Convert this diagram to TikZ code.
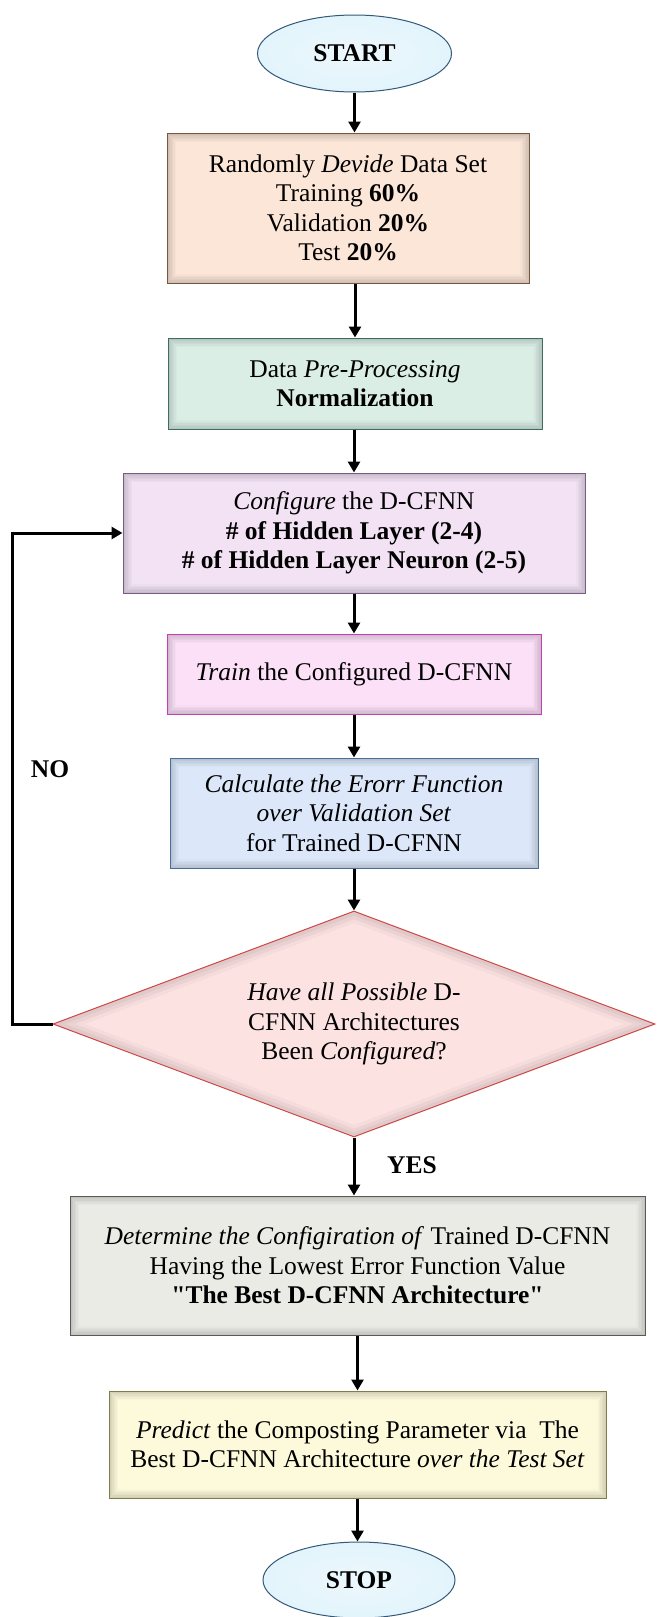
\documentclass[tikz,border=0pt]{standalone}
\usepackage{fontspec}
\newfontfamily\tnr{Liberation Serif}
\usetikzlibrary{shapes.geometric,arrows.meta}
\definecolor{peachF}{RGB}{252,230,216}
\definecolor{peachD}{RGB}{120,85,60}
\definecolor{greenF}{RGB}{218,238,230}
\definecolor{greenD}{RGB}{60,110,95}
\definecolor{purpF}{RGB}{242,226,244}
\definecolor{purpD}{RGB}{120,90,130}
\definecolor{pinkF}{RGB}{252,224,248}
\definecolor{pinkD}{RGB}{200,60,180}
\definecolor{blueF}{RGB}{220,232,250}
\definecolor{blueD}{RGB}{70,110,160}
\definecolor{redF}{RGB}{253,226,226}
\definecolor{redD}{RGB}{205,75,75}
\definecolor{grayF}{RGB}{235,235,230}
\definecolor{grayD}{RGB}{90,90,85}
\definecolor{yelF}{RGB}{253,250,220}
\definecolor{yelD}{RGB}{130,125,70}
\definecolor{ovalIn}{RGB}{236,248,253}
\definecolor{ovalMid}{RGB}{222,242,251}
\definecolor{ovalOut}{RGB}{140,210,238}
\definecolor{ovalD}{RGB}{50,90,120}
\pgfdeclareradialshading{ovalshade}{\pgfpoint{0bp}{0bp}}{color(0bp)=(ovalIn); color(38bp)=(ovalMid); color(50bp)=(ovalOut); color(100bp)=(ovalOut)}
\begin{document}
\begin{tikzpicture}[x=1pt,y=-1pt,
  every node/.style={font=\tnr\fontsize{25.5}{29.5}\selectfont, align=center, inner sep=0pt},
  bevbox/.style 2 args={rectangle, draw=#1, line width=1pt, fill=#2,
    path picture={
      \foreach \d/\p in {0/83,1.5/86,3/89,4.5/92,6/95,7.5/98,9/100}
        \fill[#2!\p!black] ([shift={(\d pt,-\d pt)}]path picture bounding box.north west)
          rectangle ([shift={(-\d pt,\d pt)}]path picture bounding box.south east);
    }},
  bevdia/.style 2 args={diamond, aspect=2.66, draw=#1, line width=1pt, fill=#2,
    path picture={
      \foreach \w/\p in {22/97,15/93,8/89}
        \draw[line width=\w pt, #2!\p!black, line join=miter]
          (path picture bounding box.north) -- (path picture bounding box.east)
          -- (path picture bounding box.south) -- (path picture bounding box.west) -- cycle;
    }},
  oval/.style={ellipse, draw=ovalD, line width=1pt, shading=ovalshade,
    minimum width=194pt, minimum height=77pt},
  arr/.style={line width=3pt, -{Triangle[width=12pt,length=11pt]}, line join=miter}
]
\useasboundingbox (0,0) rectangle (657,1617);

\node[oval] (start) at (354.5,53.5) {\textbf{START}};

\node[bevbox={peachD}{peachF}, minimum width=362pt, minimum height=150pt] (b1) at (348,208)
  {Randomly \textit{Devide} Data Set\\Training \textbf{60\%}\\Validation \textbf{20\%}\\Test \textbf{20\%}};

\node[bevbox={greenD}{greenF}, minimum width=374pt, minimum height=91pt] (b2) at (355,383.5)
  {Data \textit{Pre-Processing}\\\textbf{Normalization}};

\node[bevbox={purpD}{purpF}, minimum width=462pt, minimum height=120pt] (b3) at (354,533)
  {\textit{Configure} the D-CFNN\\\textbf{\# of Hidden Layer (2-4)}\\\textbf{\# of Hidden Layer Neuron (2-5)}};

\node[bevbox={pinkD}{pinkF}, minimum width=374pt, minimum height=80pt] (b4) at (354,674)
  {\textit{Train} the Configured D-CFNN};

\node[bevbox={blueD}{blueF}, minimum width=368pt, minimum height=110pt] (b5) at (354,813)
  {\textit{Calculate the Erorr Function}\\\textit{over Validation Set}\\for Trained D-CFNN};

\node[bevdia={redD}{redF}, minimum width=602pt, minimum height=226pt] (dec) at (354,1024)
  {\textit{Have all Possible} D-\\CFNN Architectures\\Been \textit{Configured}?};

\node[bevbox={grayD}{grayF}, minimum width=575pt, minimum height=139pt] (b6) at (357.5,1265.5)
  {\textit{Determine the Configiration of} Trained D-CFNN\\Having the Lowest Error Function Value\\\textbf{"The Best D-CFNN Architecture"}};

\node[bevbox={yelD}{yelF}, minimum width=497pt, minimum height=107pt] (b7) at (357.5,1444.5)
  {\textit{Predict} the Composting Parameter via~ The\\Best D-CFNN Architecture \textit{over the Test Set}};

\node[oval, minimum width=192pt, minimum height=76pt] (stop) at (359,1580) {\textbf{STOP}};

\node (no) at (50,769) {\textbf{NO}};
\node (yes) at (412,1165) {\textbf{YES}};

\draw[arr] (start.south) -- (start.south |- b1.north);
\draw[arr] (b1.south -| b2.north) -- (b2.north);
\draw[arr] (b2.south -| b3.north) -- (b3.north);
\draw[arr] (b3.south) -- (b4.north);
\draw[arr] (b4.south) -- (b5.north);
\draw[arr] (b5.south) -- (dec.north);
\draw[arr] (dec.south) -- (dec.south |- b6.north);
\draw[arr] (b6.south) -- (b7.north);
\draw[arr] (b7.south) -- (b7.south |- stop.north);
\draw[arr] (dec.west) -- ++(-40,0) |- (b3.west);
\end{tikzpicture}
\end{document}
